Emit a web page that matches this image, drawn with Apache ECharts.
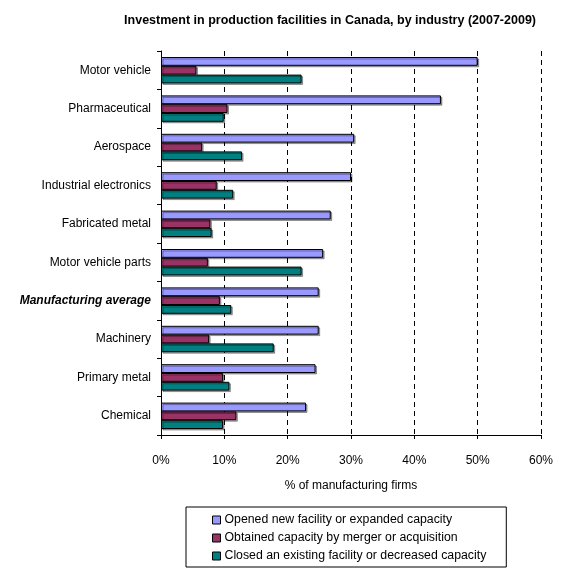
<!DOCTYPE html>
<html>
<head>
<meta charset="utf-8">
<script src="https://cdn.jsdelivr.net/npm/echarts@6/dist/echarts.min.js"></script>
<style>
  html, body { margin: 0; padding: 0; background: #fff; }
  #chart { width: 561px; height: 571px; }
</style>
</head>
<body>
<div id="chart"></div>
<script>
// Industries, top to bottom
const industries = [
  'Motor vehicle', 'Pharmaceutical', 'Aerospace', 'Industrial electronics',
  'Fabricated metal', 'Motor vehicle parts', 'Manufacturing average',
  'Machinery', 'Primary metal', 'Chemical'
];

// Share of manufacturing firms (%)
const openedNew = [50.0, 44.2, 30.5, 30.0, 26.8, 25.6, 24.9, 24.9, 24.4, 22.9];
const obtainedByMerger = [5.6, 10.5, 6.5, 8.8, 7.8, 7.4, 9.3, 7.6, 9.8, 11.9];
const closedOrDecreased = [22.2, 9.9, 12.8, 11.4, 8.0, 22.2, 11.1, 17.8, 10.8, 9.8];

const seriesNames = [
  'Opened new facility or expanded capacity',
  'Obtained capacity by merger or acquisition',
  'Closed an existing facility or decreased capacity'
];
const seriesColors = ['#9999FF', '#993366', '#008080'];

const FONT = '"Liberation Sans", Arial, sans-serif';

const chart = echarts.init(document.getElementById('chart'));

function barSeries(name, data, color) {
  return {
    name: name,
    type: 'bar',
    data: data,
    barWidth: 8.8,
    barGap: '0%',
    itemStyle: {
      color: color,
      borderColor: '#000',
      borderWidth: 1,
      shadowColor: 'rgba(0,0,0,0.35)',
      shadowOffsetX: 1.5,
      shadowOffsetY: 1.5
    }
  };
}

chart.setOption({
  animation: false,
  backgroundColor: '#fff',
  title: {
    text: 'Investment in production facilities in Canada, by industry (2007-2009)',
    right: 20,
    top: 9,
    textStyle: { fontFamily: FONT, fontSize: 12.5, fontWeight: 'bold', color: '#000' }
  },
  legend: {
    orient: 'vertical',
    left: 186,
    top: 507,
    padding: [7, 20, 5, 26],
    itemWidth: 8,
    itemHeight: 8,
    itemGap: 6,
    borderColor: '#000',
    borderWidth: 1,
    borderRadius: 0,
    icon: 'rect',
    itemStyle: { borderColor: '#000', borderWidth: 1, shadowBlur: 0, shadowOffsetX: 0, shadowOffsetY: 0 },
    textStyle: { fontFamily: FONT, fontSize: 12.3, color: '#000', padding: [0, 0, 0, -1] },
    data: seriesNames
  },
  grid: { left: 161, right: 20, top: 51, bottom: 136, containLabel: false },
  xAxis: {
    type: 'value',
    min: 0,
    max: 60,
    interval: 10,
    name: '% of manufacturing firms',
    nameLocation: 'middle',
    nameGap: 45,
    nameTextStyle: { fontFamily: FONT, fontSize: 12, color: '#000' },
    axisLine: { show: true, lineStyle: { color: '#000', width: 1 } },
    axisTick: { show: true, length: 4, lineStyle: { color: '#000' } },
    axisLabel: {
      formatter: '{value}%',
      fontFamily: FONT, fontSize: 12, color: '#000', margin: 20
    },
    splitLine: { show: true, lineStyle: { color: '#000', type: [5, 4], width: 1 } }
  },
  yAxis: {
    type: 'category',
    inverse: true,
    data: industries,
    axisLine: { show: true, lineStyle: { color: '#000', width: 1 } },
    axisTick: { show: true, length: 4, alignWithLabel: false, lineStyle: { color: '#000' } },
    axisLabel: {
      fontFamily: FONT, fontSize: 12, color: '#000', margin: 10,
      formatter: function (v) {
        return v === 'Manufacturing average' ? '{avg|' + v + '}' : v;
      },
      rich: {
        avg: { fontFamily: FONT, fontSize: 12, fontWeight: 'bold', fontStyle: 'italic', color: '#000' }
      }
    },
    splitLine: { show: false }
  },
  series: [
    barSeries(seriesNames[0], openedNew, seriesColors[0]),
    barSeries(seriesNames[1], obtainedByMerger, seriesColors[1]),
    barSeries(seriesNames[2], closedOrDecreased, seriesColors[2])
  ]
});
</script>
</body>
</html>
